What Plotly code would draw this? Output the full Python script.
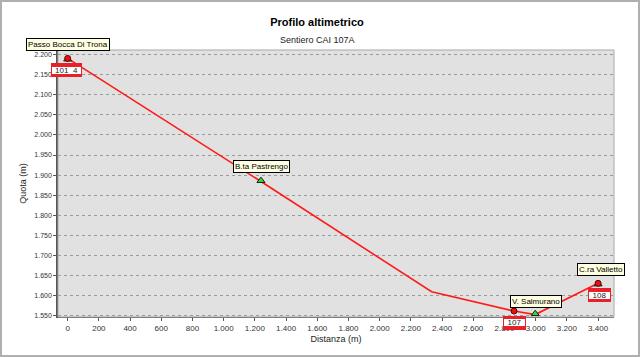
import plotly.graph_objects as go

# ---- data ----
dist = [0, 1239, 2333, 2861, 2997, 3400]
quota = [2191, 1884, 1609, 1561, 1552, 1630]

wp_names = ["Passo Bocca Di Trona", "B.ta Pastrengo", "V. Salmurano", "C.ra Valletto"]
wp_dist = [0, 1239, 2997, 3400]
wp_quota = [2189, 1886, 1554, 1628]

sign_labels = ["101_4", "107", "108"]
sign_dist = [0, 2861, 3400]
sign_quota = [2191, 1561, 1630]

title = "Profilo altimetrico"
subtitle = "Sentiero CAI 107A"
x_title = "Distanza (m)"
y_title = "Quota (m)"

FONT = "Liberation Sans, Arial, sans-serif"

fig = go.Figure()
fig.add_trace(go.Scatter(x=dist, y=quota, mode="lines",
                         line=dict(color="#ff1a1a", width=1.6),
                         hoverinfo="skip", cliponaxis=False))
fig.add_trace(go.Scatter(x=wp_dist, y=wp_quota, mode="markers",
                         marker=dict(symbol="triangle-up", size=7, color="#33dd33",
                                     line=dict(color="#1a1a1a", width=1)),
                         cliponaxis=False))
fig.add_trace(go.Scatter(x=sign_dist, y=sign_quota, mode="markers",
                         marker=dict(symbol="circle", size=6, color="#e81010",
                                     line=dict(color="#600000", width=1)),
                         cliponaxis=False))

annotations = []
# waypoint name boxes
wp_shift = [(0, 15), (1, 14), (1, 12), (3, 15)]
for name, xd, yd, (xs, ys) in zip(wp_names, wp_dist, wp_quota, wp_shift):
    annotations.append(dict(x=xd, y=yd, xref="x", yref="y", text=name, showarrow=False,
                            xshift=xs, yshift=ys,
                            font=dict(family=FONT, size=8, color="#000000"),
                            bgcolor="#ffffe1", bordercolor="#000000", borderwidth=1,
                            borderpad=1))
# trail sign boxes (red-white-red)
sign_shift = [(-1, -12), (0, -12), (1, -12)]
sign_w = [29, 21, 21]
for lab, xd, yd, (xs, ys), w in zip(sign_labels, sign_dist, sign_quota, sign_shift, sign_w):
    annotations.append(dict(x=xd, y=yd, xref="x", yref="y", text=" ", showarrow=False,
                            xshift=xs, yshift=ys, width=w + 2, height=14,
                            font=dict(family=FONT, size=5),
                            bgcolor="#e8202a", borderwidth=0, borderpad=0))
    annotations.append(dict(x=xd, y=yd, xref="x", yref="y", text=lab, showarrow=False,
                            xshift=xs, yshift=ys, width=w, height=7,
                            font=dict(family=FONT, size=8, color="#222222"),
                            bgcolor="#ffffff", borderwidth=0, borderpad=0))

annotations.append(dict(text=subtitle, x=(317 - 58) / 556, y=(317 - 40) / 267,
                        xref="paper", yref="paper", xanchor="center", yanchor="middle",
                        showarrow=False, font=dict(family=FONT, size=9, color="#222222")))

fig.update_layout(
    width=640, height=357,
    margin=dict(l=58, r=26, t=50, b=40, autoexpand=False),
    paper_bgcolor="#ffffff",
    plot_bgcolor="#e1e1e1",
    separators=",.",
    showlegend=False,
    font=dict(family=FONT, color="#333333"),
    title=dict(text="<b>%s</b>" % title, x=(317 - 58) / 556, xref="paper", xanchor="center",
               y=1 - 22 / 357, yref="container", yanchor="middle", automargin=False,
               font=dict(family=FONT, size=11, color="#000000")),
    annotations=annotations,
    xaxis=dict(range=[-62, 3502], dtick=200, tick0=0, tickformat=",d", automargin=False,
               showgrid=False, zeroline=False,
               showline=True, linecolor="#555555", linewidth=1,
               ticks="outside", ticklen=3, tickcolor="#555555",
               tickfont=dict(family=FONT, size=8, color="#333333"),
               title=dict(text=x_title, standoff=4,
                          font=dict(family=FONT, size=9, color="#222222"))),
    yaxis=dict(range=[1546, 2212], dtick=50, tick0=1550, tickformat=",d", automargin=False,
               showgrid=True, gridcolor="#9a9a9a", griddash="dot", gridwidth=1,
               zeroline=False,
               showline=True, linecolor="#555555", linewidth=1.5,
               ticks="outside", ticklen=3, tickcolor="#555555",
               tickfont=dict(family=FONT, size=7, color="#333333"),
               title=dict(text=y_title, standoff=6,
                          font=dict(family=FONT, size=9, color="#222222"))),
    shapes=[
        dict(type="rect", xref="paper", yref="paper", x0=0, x1=1, y0=0, y1=1,
             line=dict(color="#a8a8a8", width=1), layer="above"),
        dict(type="rect", xref="paper", yref="paper",
             x0=(1 - 58) / 556, x1=(639 - 58) / 556,
             y0=(317 - 356) / 267, y1=(317 - 1) / 267,
             line=dict(color="#b0b0b0", width=2)),
    ],
)

fig.write_html("out.html", config={"displayModeBar": False},
               post_script="document.body.style.margin='0px';document.body.style.overflow='hidden';")
